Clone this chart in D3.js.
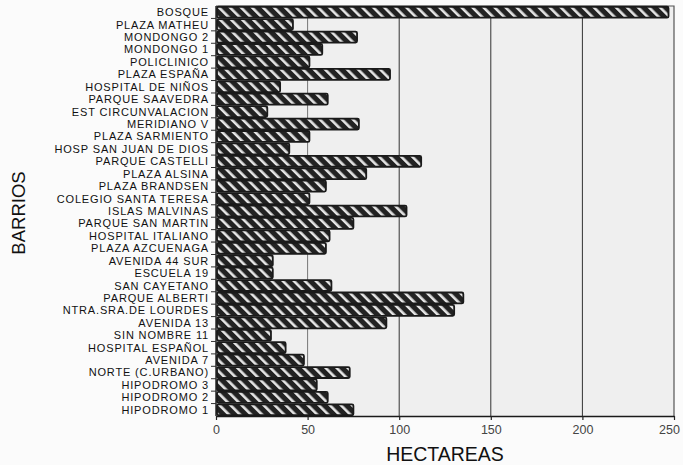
<!DOCTYPE html>
<html>
<head>
<meta charset="utf-8">
<script src="https://cdn.jsdelivr.net/npm/d3@7"></script>
<style>
  html, body { margin: 0; padding: 0; background: #fbfbfb; }
  svg { display: block; font-family: Arial, "Liberation Sans", Helvetica, sans-serif; }
</style>
</head>
<body>
<svg id="chart" width="683" height="465"></svg>
<script>
const categories = [
  "BOSQUE", "PLAZA MATHEU", "MONDONGO 2", "MONDONGO 1", "POLICLINICO",
  "PLAZA ESPAÑA", "HOSPITAL DE NIÑOS", "PARQUE SAAVEDRA", "EST CIRCUNVALACION",
  "MERIDIANO V", "PLAZA SARMIENTO", "HOSP SAN JUAN DE DIOS", "PARQUE CASTELLI",
  "PLAZA ALSINA", "PLAZA BRANDSEN", "COLEGIO SANTA TERESA", "ISLAS MALVINAS",
  "PARQUE SAN MARTIN", "HOSPITAL ITALIANO", "PLAZA AZCUENAGA", "AVENIDA 44 SUR",
  "ESCUELA 19", "SAN CAYETANO", "PARQUE ALBERTI", "NTRA.SRA.DE LOURDES",
  "AVENIDA 13", "SIN NOMBRE 11", "HOSPITAL ESPAÑOL", "AVENIDA 7",
  "NORTE (C.URBANO)", "HIPODROMO 3", "HIPODROMO 2", "HIPODROMO 1"
];
const hectareas = [
  247, 42, 77, 58, 51,
  95, 35, 61, 28,
  78, 51, 40, 112,
  82, 60, 51, 104,
  75, 62, 60, 31,
  31, 63, 135, 130,
  93, 30, 38, 48,
  73, 55, 61, 75
];
const xTicks = [0, 50, 100, 150, 200, 250];
const gridValues = [50, 100, 150, 200];
const xTitle = "HECTAREAS";
const yTitle = "BARRIOS";

const svg = d3.select("#chart");
const m = { left: 216, right: 674, top: 6, bottom: 416 };

const x = d3.scaleLinear().domain([0, 250]).range([m.left, m.right]);
const y = d3.scaleBand().domain(categories).range([m.top, m.bottom]).paddingInner(0.12).paddingOuter(0.06);

// hatch pattern
const defs = svg.append("defs");
const pat = defs.append("pattern")
  .attr("id", "hatch")
  .attr("patternUnits", "userSpaceOnUse")
  .attr("width", 7.8).attr("height", 10)
  .attr("patternTransform", "rotate(-45)");
pat.append("rect").attr("width", 7.8).attr("height", 10).attr("fill", "#222");
pat.append("rect").attr("x", 0).attr("width", 2.6).attr("height", 10).attr("fill", "#e6e6e6");

// plot background
svg.append("rect")
  .attr("x", m.left).attr("y", m.top)
  .attr("width", m.right - m.left).attr("height", m.bottom - m.top)
  .attr("fill", "#efefef");

// gridlines
svg.append("g").selectAll("line").data(gridValues).join("line")
  .attr("x1", d => x(d)).attr("x2", d => x(d))
  .attr("y1", m.top).attr("y2", m.bottom)
  .attr("stroke", d => d === 50 ? "#777" : "#333")
  .attr("stroke-width", 1);

// frame top/right
svg.append("path")
  .attr("d", `M${m.left},${m.top}H${m.right}V${m.bottom}`)
  .attr("fill", "none").attr("stroke", "#555").attr("stroke-width", 1.2);

// bars
svg.append("g").selectAll("rect").data(categories).join("rect")
  .attr("x", x(0) + 1)
  .attr("y", d => y(d))
  .attr("width", (d, i) => x(hectareas[i]) - x(0) - 1)
  .attr("height", y.bandwidth())
  .attr("rx", 1.5)
  .attr("fill", "url(#hatch)")
  .attr("stroke", "#1a1a1a")
  .attr("stroke-width", 1.8);

// x axis
const xAxis = svg.append("g")
  .attr("transform", `translate(0,${m.bottom})`)
  .call(d3.axisBottom(x).tickValues(xTicks).tickSize(4).tickSizeOuter(0).tickPadding(5));
xAxis.select(".domain").attr("stroke", "#1a1a1a").attr("stroke-width", 1.6);
xAxis.selectAll(".tick line").attr("stroke", "#222").attr("stroke-width", 1.2);
xAxis.selectAll(".tick text")
  .attr("font-size", "12.5px").attr("fill", "#444")
  .attr("font-family", "Arial, 'Liberation Sans', sans-serif")
  .attr("dx", d => d === 250 ? -5 : 0);

// y axis with ticks at band boundaries
const yAxis = svg.append("g").attr("transform", `translate(${m.left},0)`);
yAxis.append("line")
  .attr("x1", 0).attr("x2", 0).attr("y1", m.top).attr("y2", m.bottom)
  .attr("stroke", "#1a1a1a").attr("stroke-width", 1.4);
const step = y.step();
const boundaries = categories.slice(1).map(c => y(c) - step * y.paddingInner() / 2);
yAxis.selectAll("line.tk").data(boundaries).join("line")
  .attr("class", "tk")
  .attr("x1", -5).attr("x2", 0)
  .attr("y1", d => d).attr("y2", d => d)
  .attr("stroke", "#333").attr("stroke-width", 1);
yAxis.selectAll("text").data(categories).join("text")
  .attr("x", -7)
  .attr("y", d => y(d) + y.bandwidth() / 2)
  .attr("dy", "0.36em")
  .attr("text-anchor", "end")
  .attr("font-size", "11px")
  .attr("letter-spacing", "0.85px")
  .attr("fill", "#111")
  .text(d => d);

// titles
svg.append("text")
  .attr("x", (m.left + m.right) / 2).attr("y", 461)
  .attr("text-anchor", "middle")
  .attr("font-size", "19.5px").attr("fill", "#111")
  .text(xTitle);
svg.append("text")
  .attr("transform", `translate(25,${(m.top + m.bottom) / 2 + 2}) rotate(-90)`)
  .attr("text-anchor", "middle")
  .attr("font-size", "18.5px").attr("fill", "#111")
  .text(yTitle);
</script>
</body>
</html>
